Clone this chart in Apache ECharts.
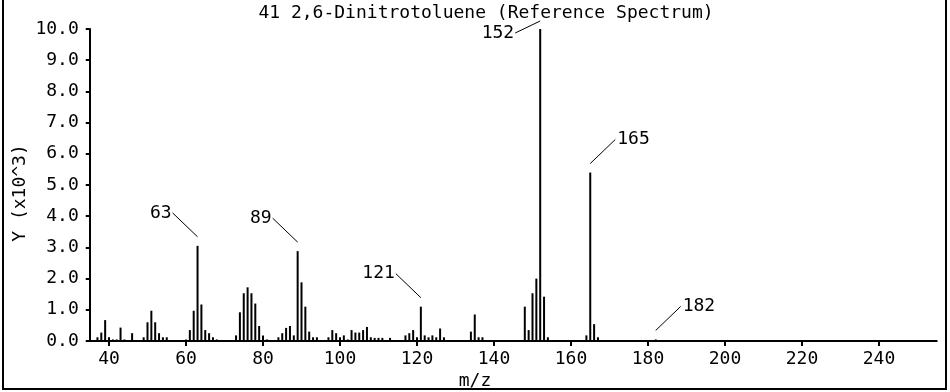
<!DOCTYPE html>
<html>
<head>
<meta charset="utf-8">
<script src="https://cdn.jsdelivr.net/npm/echarts@6/dist/echarts.min.js"></script>
<style>
html,body{margin:0;padding:0;background:#fff;}
#chart{width:950px;height:392px;}
</style>
</head>
<body>
<div id="chart"></div>
<script>
// ---- data ----
const titleText = '41 2,6-Dinitrotoluene (Reference Spectrum)';
const xName = 'm/z';
const yName = 'Y (x10^3)';
const mz = [37,38,39,40,41,42,43,44,46,
  49,50,51,52,53,54,55,
  60,61,62,63,64,65,66,67,68,
  73,74,75,76,77,78,79,80,81,
  84,85,86,87,88,89,90,91,92,93,94,
  97,98,99,100,101,102,103,104,105,106,107,108,109,110,111,113,
  117,118,119,120,121,122,123,124,125,126,127,
  134,135,136,137,
  148,149,150,151,152,153,154,
  164,165,166,167,
  182];
const intensity = [0.12,0.27,0.67,0.12,0.05,0.05,0.43,0.05,0.25,
  0.12,0.6,0.97,0.6,0.25,0.12,0.12,
  0.05,0.35,0.97,3.05,1.17,0.35,0.25,0.12,0.05,
  0.18,0.92,1.53,1.72,1.53,1.2,0.48,0.18,0.05,
  0.12,0.25,0.42,0.48,0.18,2.88,1.88,1.1,0.3,0.12,0.12,
  0.12,0.35,0.25,0.12,0.18,0.05,0.35,0.27,0.27,0.35,0.45,0.12,0.1,0.1,0.1,0.1,
  0.18,0.25,0.35,0.12,1.1,0.18,0.12,0.18,0.12,0.4,0.12,
  0.3,0.85,0.12,0.12,
  1.1,0.35,1.53,2.0,10.0,1.42,0.12,
  0.18,5.4,0.54,0.12,
  0.05];
const xTicks = [40,60,80,100,120,140,160,180,200,220,240];
const yTicks = [0,1,2,3,4,5,6,7,8,9,10];
const peakLabels = [63,89,121,152,165,182];
// label placement: 0 = up-left, 1 = down-left, 2 = up-right
const peakSide = [0,0,0,1,2,2];

const FONT = 'DejaVu Sans Mono';
const FS = 18;

const barData = mz.map((m,i)=>[m,intensity[i]]);
const annData = peakLabels.map((m,i)=>[m, intensity[mz.indexOf(m)], peakSide[i]]);

const chart = echarts.init(document.getElementById('chart'), null, {renderer:'canvas'});
chart.setOption({
  animation:false,
  backgroundColor:'#fff',
  grid:{left:89.75, right:13.25, top:29, bottom:51, containLabel:false},
  xAxis:{
    type:'value', min:35, max:255, offset:5,
    axisLine:{show:true, lineStyle:{color:'#000', width:2}},
    axisTick:{show:true, length:5, inside:false, customValues:xTicks, lineStyle:{color:'#000', width:2}},
    axisLabel:{show:true, customValues:xTicks, color:'#000', fontFamily:FONT, fontSize:FS, margin:4},
    splitLine:{show:false}
  },
  yAxis:{
    type:'value', min:0, max:10, interval:1,
    axisLine:{show:true, lineStyle:{color:'#000', width:2}},
    axisTick:{show:true, length:4, lineStyle:{color:'#000', width:2}},
    axisLabel:{color:'#000', fontFamily:FONT, fontSize:FS, margin:11,
      formatter:v=>v.toFixed(1)},
    splitLine:{show:false}
  },
  graphic:[
    {type:'text', x:486, y:13, style:{text:titleText, fill:'#000', font:FS+'px "'+FONT+'"', textAlign:'center', textVerticalAlign:'middle'}},
    {type:'text', x:475, y:381, style:{text:xName, fill:'#000', font:FS+'px "'+FONT+'"', textAlign:'center', textVerticalAlign:'middle'}},
    {type:'text', x:20, y:193, rotation:Math.PI/2, style:{text:yName, fill:'#000', font:FS+'px "'+FONT+'"', textAlign:'center', textVerticalAlign:'middle'}},
    {type:'polyline', shape:{points:[[3,0],[3,389],[946,389],[946,0]]}, style:{stroke:'#000', lineWidth:2, fill:null}}
  ],
  series:[
    {type:'bar', data:barData, barWidth:2, itemStyle:{color:'#000'}, silent:true},
    {type:'custom', data:annData, clip:false, silent:true,
      renderItem:function(params, api){
        const p = api.coord([api.value(0), api.value(1)]);
        const side = api.value(2);
        const lbl = String(api.value(0));
        let s, e, align;
        if (side === 0){ s=[p[0], p[1]-9]; e=[p[0]-25, p[1]-33]; align='right'; }
        else if (side === 1){ s=[p[0], p[1]-8]; e=[p[0]-25, p[1]+4]; align='right'; }
        else { s=[p[0], p[1]-9]; e=[p[0]+25, p[1]-33]; align='left'; }
        return {type:'group', children:[
          {type:'line', shape:{x1:s[0], y1:s[1], x2:e[0], y2:e[1]}, style:{stroke:'#000', lineWidth:1}},
          {type:'text', x:e[0] + (align==='right'?-1:2), y:e[1], style:{text:lbl, fill:'#000', font:FS+'px "'+FONT+'"', textAlign:align, textVerticalAlign:'middle'}}
        ]};
      }
    }
  ]
});
</script>
</body>
</html>
